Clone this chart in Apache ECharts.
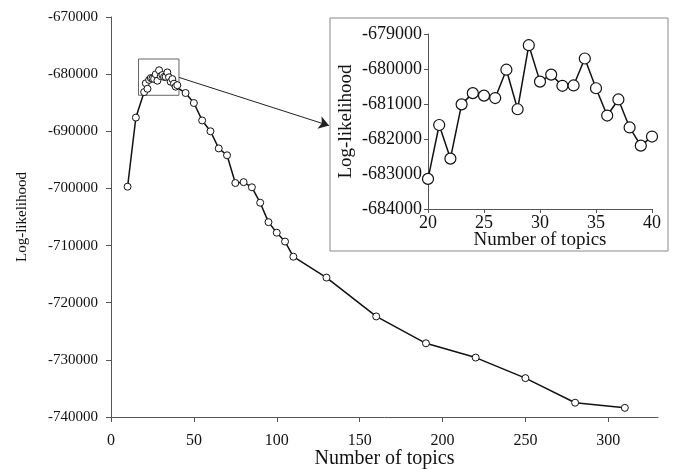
<!DOCTYPE html>
<html>
<head>
<meta charset="utf-8">
<script src="https://cdn.jsdelivr.net/npm/echarts@6/dist/echarts.min.js"></script>
<style>
  html, body { margin: 0; padding: 0; background: #fff; }
  #chart { width: 673px; height: 469px; }
</style>
</head>
<body>
<div id="chart"></div>
<script>
// number of topics and log-likelihood
const earlyTopics = [10, 15]
const earlyLL = [-699700, -687600]

const peakTopics = [20, 21, 22, 23, 24, 25, 26, 27, 28, 29, 30, 31, 32, 33, 34, 35, 36, 37, 38, 39, 40]
const peakLL = [-683140, -681600, -682560, -681010, -680690, -680760, -680830, -680020, -681150, -679320,
  -680360, -680160, -680480, -680470, -679700, -680550, -681330, -680870, -681670, -682190, -681930]

const lateTopics = [45, 50, 55, 60, 65, 70, 75, 80, 85, 90, 95, 100, 105, 110, 130, 160, 190, 220, 250, 280, 310]
const lateLL = [-683300, -685050, -688100, -690000, -693000, -694200, -699050, -698900, -699800, -702500,
  -705900, -707750, -709300, -711950, -715600, -722400, -727100, -729600, -733200, -737500, -738400]

const mainXTicks = [0, 50, 100, 150, 200, 250, 300]

const font = "'Liberation Serif', 'Times New Roman', serif"
const axisColor = '#555'

const pairs = (xs, ys) => xs.map((x, i) => [x, ys[i]])
const mainData = pairs(earlyTopics, earlyLL)
  .concat(pairs(peakTopics, peakLL))
  .concat(pairs(lateTopics, lateLL))
const insetData = pairs(peakTopics, peakLL)

const chart = echarts.init(document.getElementById('chart'))

const option = {
  backgroundColor: '#fff',
  animation: false,
  grid: [
    { left: 111, right: 15, top: 17, bottom: 52, outerBoundsMode: 'none' },
    { left: 428, top: 34, width: 224, height: 175, outerBoundsMode: 'none' }
  ],
  graphic: [
    {
      type: 'rect',
      shape: { x: 330, y: 18, width: 338, height: 233 },
      style: { fill: 'none', stroke: '#888', lineWidth: 1 },
      z: 1
    }
  ],
  xAxis: [
    {
      gridIndex: 0,
      type: 'value',
      min: 0,
      max: 330,
      interval: 50,
      name: 'Number of topics',
      nameLocation: 'middle',
      nameGap: 32,
      nameMoveOverlap: false,
      nameTextStyle: { fontFamily: font, fontSize: 20, color: '#111' },
      axisLine: { lineStyle: { color: axisColor } },
      axisTick: { length: 5, lineStyle: { color: axisColor }, customValues: mainXTicks },
      axisLabel: { fontFamily: font, fontSize: 16, color: '#111', margin: 16, customValues: mainXTicks },
      splitLine: { show: false }
    },
    {
      gridIndex: 1,
      type: 'value',
      min: 20,
      max: 40,
      interval: 5,
      name: 'Number of topics',
      nameLocation: 'middle',
      nameGap: 22,
      nameMoveOverlap: false,
      nameTextStyle: { fontFamily: font, fontSize: 19, color: '#111' },
      axisLine: { lineStyle: { color: axisColor } },
      axisTick: { length: 4, lineStyle: { color: axisColor } },
      axisLabel: { fontFamily: font, fontSize: 18, color: '#111', margin: 5 },
      splitLine: { show: false }
    }
  ],
  yAxis: [
    {
      gridIndex: 0,
      type: 'value',
      min: -740000,
      max: -670000,
      interval: 10000,
      name: 'Log-likelihood',
      nameLocation: 'middle',
      nameGap: 81,
      nameMoveOverlap: false,
      nameTextStyle: { fontFamily: font, fontSize: 15, color: '#111' },
      axisLine: { show: true, lineStyle: { color: axisColor } },
      axisTick: { show: true, length: 5, lineStyle: { color: axisColor } },
      axisLabel: { fontFamily: font, fontSize: 15, color: '#111', margin: 13, formatter: v => String(v) },
      splitLine: { show: false }
    },
    {
      gridIndex: 1,
      type: 'value',
      min: -684000,
      max: -679000,
      interval: 1000,
      name: 'Log-likelihood',
      nameLocation: 'middle',
      nameGap: 72,
      nameMoveOverlap: false,
      nameTextStyle: { fontFamily: font, fontSize: 19, color: '#111' },
      axisLine: { show: true, lineStyle: { color: axisColor } },
      axisTick: { show: true, length: 4, lineStyle: { color: axisColor } },
      axisLabel: { fontFamily: font, fontSize: 18, color: '#111', margin: 6, formatter: v => String(v) },
      splitLine: { show: false }
    }
  ],
  series: [
    {
      type: 'line',
      xAxisIndex: 0,
      yAxisIndex: 0,
      data: mainData,
      symbol: 'circle',
      symbolSize: 7,
      showAllSymbol: true,
      lineStyle: { color: '#111', width: 1.5 },
      itemStyle: { color: '#fff', borderColor: '#111', borderWidth: 1 },
      markArea: {
        silent: true,
        itemStyle: { color: 'rgba(0,0,0,0)', borderColor: '#666', borderWidth: 1 },
        data: [[{ coord: [16.6, -677350] }, { coord: [41, -683700] }]]
      },
      markLine: {
        silent: true,
        symbol: ['none', 'arrow'],
        symbolSize: 10,
        label: { show: false },
        lineStyle: { color: '#222', width: 1, type: 'solid' },
        data: [[{ coord: [41, -680570] }, { coord: [131.5, -689000] }]]
      }
    },
    {
      type: 'line',
      xAxisIndex: 1,
      yAxisIndex: 1,
      data: insetData,
      symbol: 'circle',
      symbolSize: 11,
      lineStyle: { color: '#111', width: 1.5 },
      itemStyle: { color: '#fff', borderColor: '#111', borderWidth: 1.2 },
      z: 3
    }
  ]
}

chart.setOption(option)
</script>
</body>
</html>
